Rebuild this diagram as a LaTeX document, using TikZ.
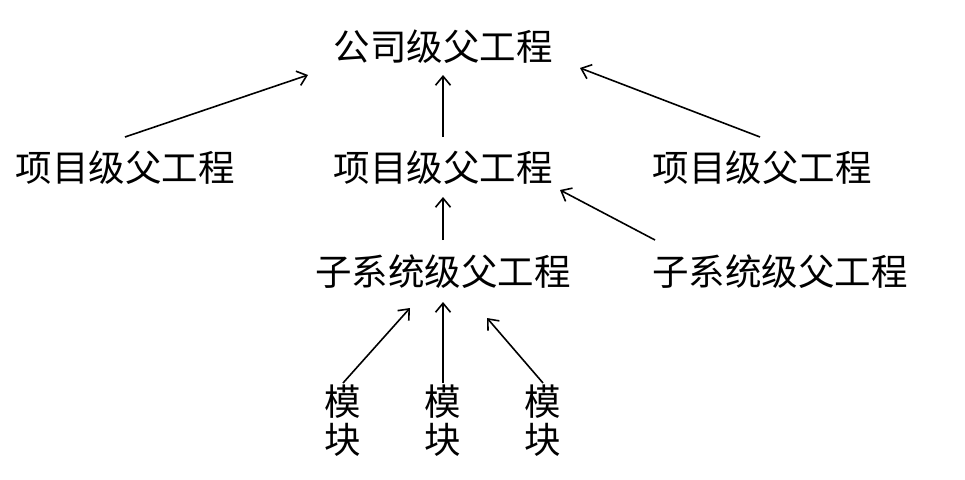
\documentclass[tikz,border=0pt]{standalone}
\usepackage{fontspec}
\setmainfont{Noto Sans CJK SC}
\usetikzlibrary{arrows.meta,calc}
\begin{document}
\begin{tikzpicture}[x=1pt,y=-1pt,
  lbl/.style={font=\fontsize{36.5}{38}\selectfont, inner sep=0pt},
  arr/.style={line width=1.6pt, -{Straight Barb[length=9pt,width=15pt,line width=1.6pt]}}]
\useasboundingbox (0,0) rectangle (965,479);
\node[lbl] (top) at (443,47) {公司级父工程};
\node[lbl] (p1) at (125,168) {项目级父工程};
\node[lbl] (p2) at (443,168) {项目级父工程};
\node[lbl] (p3) at (762,168) {项目级父工程};
\node[lbl] (s1) at (443,272) {子系统级父工程};
\node[lbl] (s2) at (780,272) {子系统级父工程};
\node[lbl, align=center] (m1) at (343,421) {模\\块};
\node[lbl, align=center] (m2) at (443,421) {模\\块};
\node[lbl, align=center] (m3) at (543,421) {模\\块};
\draw[arr] ($(p1)+(0,-31)$) -- ($(top)+(-135,28)$);
\draw[arr] ($(p2)+(0,-31)$) -- ($(top)+(0,28)$);
\draw[arr] ($(p3)+(-2,-31)$) -- ($(top)+(137,21)$);
\draw[arr] ($(s1)+(0,-32)$) -- ($(p2)+(0,29)$);
\draw[arr] ($(s2)+(-125,-32)$) -- ($(p2)+(117,22)$);
\draw[arr] ($(m1)+(0,-38)$) -- ($(s1)+(-33,36)$);
\draw[arr] ($(m2)+(0,-38)$) -- ($(s1)+(0,30)$);
\draw[arr] ($(m3)+(0,-38)$) -- ($(s1)+(44,46)$);
\end{tikzpicture}
\end{document}
